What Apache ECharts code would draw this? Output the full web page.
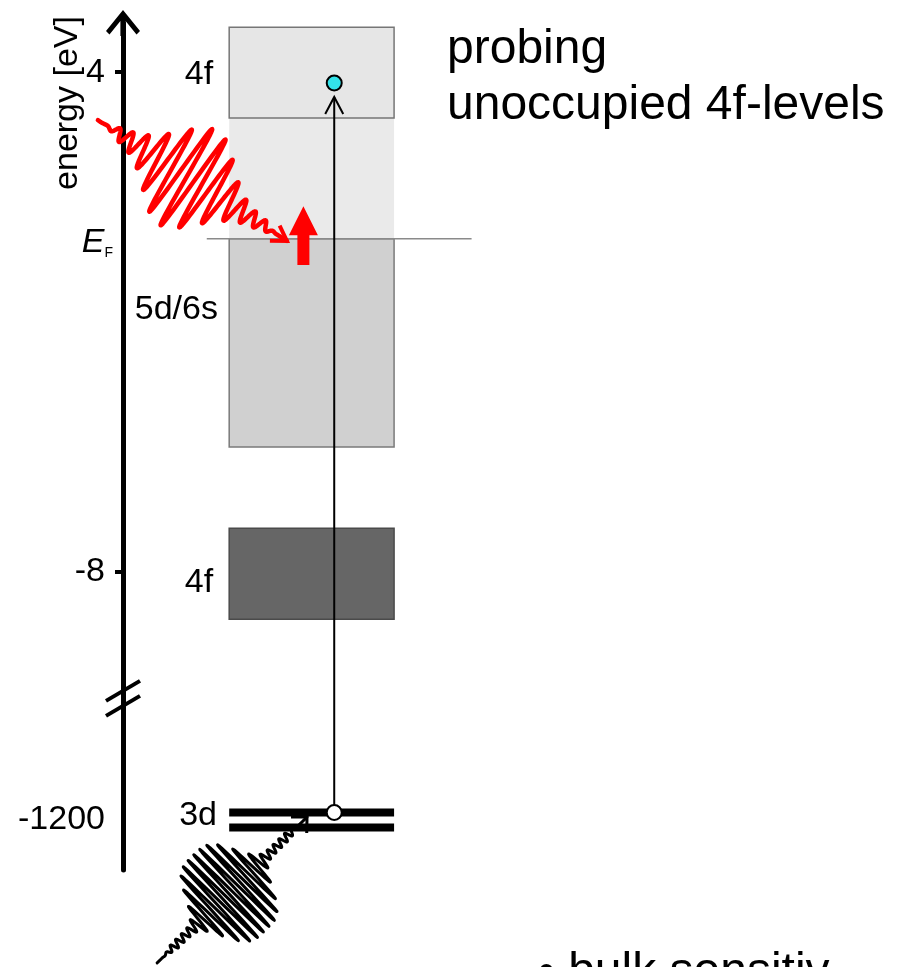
<!DOCTYPE html>
<html><head><meta charset="utf-8">
<script src="https://cdn.jsdelivr.net/npm/echarts@6/dist/echarts.min.js"></script>
<style>html,body{margin:0;padding:0;background:#fff}#c{width:897px;height:967px}</style>
</head><body><div id="c"></div>
<script>
// ---------------- data (energies in eV) ----------------
const bandNames   = ['4f (unoccupied)', '5d/6s (unoccupied)', '5d/6s', '4f'];
const bandTop     = [5.08, 2.90, 0.00, -6.95];
const bandBottom  = [2.90, 0.00, -5.00, -9.13];
const bandLabels  = ['4f', '5d/6s', '4f'];
const bandLabelE  = [3.95, -1.69, -8.26];
const coreLabel   = '3d';
const coreLabelE  = -1199.9;
const coreLevels  = [-1199.82, -1200.18];
const fermiLevel  = 0;
const tickValues  = [4, -8];
const tickLabels  = [4, -8, -1200];
const probeFromE  = -1199.82;   // core hole (open circle)
const probeToE    = 3.74;       // excited electron in 4f (cyan dot)
const pumpE       = [2.85, -0.05];        // optical pump pulse: start, arrow tip
const xrayE       = [-1203.43, -1199.93]; // x-ray pulse: start, arrow tip
const spinE       = [-0.63, 0.78];        // red spin arrow: tail, tip
const breakMarks  = [-10.85, -11.21];     // axis-break slashes (axis units)

// ---------------- axis break ----------------
const BREAK_SHIFT = 1186.05;
const toAxis = e => (e < -100 ? e + BREAK_SHIFT : e);
const fromAxis = v => (v < -12 ? Math.round(v - BREAK_SHIFT) : Math.round(v * 100) / 100);

// ---------------- layout (x in band-width units) ----------------
const X = {
  min: -0.644, max: 4.05,
  bandL: 0, bandR: 1,
  labelR: -0.097, label5dR: -0.068, coreLabelR: -0.074,
  efL: -0.136, efR: 1.47, efLabelR: -0.705,
  probe: 0.637, spin: 0.45,
  pump: [-0.796, 0.350], xray: [-0.437, 0.472]
};
const FONT = '"Liberation Sans", Arial, Helvetica, sans-serif';
const BAND_STYLE = [
  { fill: '#e6e6e6', stroke: '#767676', lineWidth: 1.5 },
  { fill: '#eaeaea', stroke: null, lineWidth: 0 },
  { fill: '#d0d0d0', stroke: '#7a7a7a', lineWidth: 1.5 },
  { fill: '#666666', stroke: '#4a4a4a', lineWidth: 1.5 }
];
const BAND_Z = [2, 1, 1, 1];
const RED_WAVE = { amp: 50, center: 0.48, width: 44, order: 2, lam: 17, lamTail: 13, tailAmp: 5, tailIn: [8, 30], tailOut: [30, 12] };
const BLK_WAVE = { amp: 48, center: 0.48, width: 37, order: 4, lam: 8, lamTail: 8, tailAmp: 4, tailIn: [6, 26], tailOut: [28, 12] };

function smooth(a, b, s) { let t = (s - a) / (b - a); t = Math.max(0, Math.min(1, t)); return t * t * (3 - 2 * t); }
function wavePoints(p0, p1, c) {
  const dx = p1[0] - p0[0], dy = p1[1] - p0[1], L = Math.hypot(dx, dy);
  const ux = dx / L, uy = dy / L, nx = -uy, ny = ux;
  const pts = []; let phase = 0; const step = 0.3;
  for (let s = 0; s <= L; s += step) {
    const env = c.amp * Math.exp(-Math.pow(Math.abs(s - c.center * L) / c.width, c.order));
    const fadeOut = 1 - smooth(L - c.tailOut[0], L - c.tailOut[1], s);
    const tail = c.tailAmp * smooth(c.tailIn[0], c.tailIn[1], s) * fadeOut;
    const a = env * fadeOut + tail;
    const lam = c.lamTail + (c.lam - c.lamTail) * Math.min(1, 3 * env / c.amp);
    phase += 2 * Math.PI * step / lam;
    const off = a * Math.sin(phase);
    pts.push([p0[0] + ux * s + nx * off, p0[1] + uy * s + ny * off]);
  }
  pts.push([p1[0], p1[1]]);
  return { pts, ux, uy };
}
function arrowHead(tip, ux, uy, len, ang) {
  const bx = -ux, by = -uy, r = [];
  for (const a of [ang, -ang]) {
    const c = Math.cos(a), s = Math.sin(a);
    r.push([tip[0] + len * (bx * c - by * s), tip[1] + len * (bx * s + by * c)]);
  }
  return [r[0], tip, r[1]];
}
function custom(name, data, renderItem, z) {
  return { type: 'custom', name, data, renderItem, z, silent: true, animation: false, clip: false };
}

const series = [];
// bands
series.push(custom('bands', bandTop.map((t, i) => [t, bandBottom[i]]), (p, api) => {
  const i = p.dataIndex;
  const a = api.coord([X.bandL, toAxis(api.value(0))]);
  const b = api.coord([X.bandR, toAxis(api.value(1))]);
  const st = BAND_STYLE[i];
  return { type: 'rect', z2: BAND_Z[i], shape: { x: a[0], y: a[1], width: b[0] - a[0], height: b[1] - a[1] },
    style: { fill: st.fill, stroke: st.stroke, lineWidth: st.lineWidth } };
}, 1));
// Fermi level line
series.push(custom('EF', [[fermiLevel]], (p, api) => {
  const a = api.coord([X.efL, toAxis(api.value(0))]);
  const b = api.coord([X.efR, toAxis(api.value(0))]);
  return { type: 'line', shape: { x1: a[0], y1: a[1], x2: b[0], y2: b[1] }, style: { stroke: '#8a8a8a', lineWidth: 1.5 } };
}, 2));
// 3d core levels
series.push(custom('3d', coreLevels.map(e => [e]), (p, api) => {
  const a = api.coord([X.bandL, toAxis(api.value(0))]);
  const b = api.coord([X.bandR, toAxis(api.value(0))]);
  return { type: 'line', shape: { x1: a[0], y1: a[1], x2: b[0], y2: b[1] }, style: { stroke: '#000', lineWidth: 8 } };
}, 3));
// probe transition: line, arrow head, circles
series.push(custom('probe', [[probeFromE, probeToE]], (p, api) => {
  const a = api.coord([X.probe, toAxis(api.value(0))]);
  const b = api.coord([X.probe, toAxis(api.value(1))]);
  const tipY = b[1] + 14;
  return { type: 'group', children: [
    { type: 'line', shape: { x1: a[0], y1: a[1], x2: a[0], y2: tipY }, style: { stroke: '#000', lineWidth: 2 } },
    { type: 'polyline', shape: { points: [[a[0] - 9, tipY + 17], [a[0], tipY], [a[0] + 9, tipY + 17]] }, style: { stroke: '#000', lineWidth: 2, fill: null } },
    { type: 'circle', shape: { cx: a[0], cy: a[1], r: 7.5 }, style: { fill: '#fff', stroke: '#000', lineWidth: 2 } },
    { type: 'circle', shape: { cx: b[0], cy: b[1], r: 7.5 }, style: { fill: '#33e3ea', stroke: '#000', lineWidth: 2 } }
  ] };
}, 4));
// pump pulse (red)
series.push(custom('pump', [pumpE], (p, api) => {
  const a = api.coord([X.pump[0], toAxis(api.value(0))]);
  const b = api.coord([X.pump[1], toAxis(api.value(1))]);
  const w = wavePoints(a, b, RED_WAVE);
  return { type: 'group', children: [
    { type: 'polyline', shape: { points: w.pts }, style: { stroke: '#ff0000', lineWidth: 4.5, fill: null, lineJoin: 'round', lineCap: 'round' } },
    { type: 'polyline', shape: { points: arrowHead(b, w.ux, w.uy, 17, 0.56) }, style: { stroke: '#ff0000', lineWidth: 4, fill: null, lineJoin: 'miter' } }
  ] };
}, 5));
// x-ray pulse (black)
series.push(custom('xray', [xrayE], (p, api) => {
  const a = api.coord([X.xray[0], toAxis(api.value(0))]);
  const b = api.coord([X.xray[1], toAxis(api.value(1))]);
  const w = wavePoints(a, b, BLK_WAVE);
  return { type: 'group', children: [
    { type: 'polyline', shape: { points: w.pts }, style: { stroke: '#000', lineWidth: 3, fill: null, lineJoin: 'round', lineCap: 'round' } },
    { type: 'polyline', shape: { points: arrowHead(b, w.ux, w.uy, 16, 0.78) }, style: { stroke: '#000', lineWidth: 3, fill: null } }
  ] };
}, 5));
// red spin arrow
series.push(custom('spin', [spinE], (p, api) => {
  const a = api.coord([X.spin, toAxis(api.value(0))]);
  const b = api.coord([X.spin, toAxis(api.value(1))]);
  const x = a[0], hb = b[1] + 29;
  return { type: 'polygon', shape: { points: [[x - 6, a[1]], [x - 6, hb], [x - 14.5, hb], [x, b[1]], [x + 14.5, hb], [x + 6, hb], [x + 6, a[1]]] },
    style: { fill: '#ff0000' } };
}, 6));
// axis break slashes
series.push(custom('break', breakMarks.map(v => [v]), (p, api) => {
  const c = api.coord([X.min, api.value(0)]);
  return { type: 'line', shape: { x1: c[0] - 17, y1: c[1] + 10, x2: c[0] + 17, y2: c[1] - 10 }, style: { stroke: '#000', lineWidth: 4 } };
}, 6));
// band labels
series.push(custom('bandLabels', bandLabelE.map(e => [e]), (p, api) => {
  const i = p.dataIndex;
  const c = api.coord([i === 1 ? X.label5dR : X.labelR, toAxis(api.value(0))]);
  return { type: 'text', x: c[0], y: c[1], style: { text: bandLabels[i], font: '34px ' + FONT, fill: '#000', align: 'right', verticalAlign: 'middle' } };
}, 6));
series.push(custom('coreLabel', [[coreLabelE]], (p, api) => {
  const c = api.coord([X.coreLabelR, toAxis(api.value(0))]);
  return { type: 'text', x: c[0], y: c[1], style: { text: coreLabel, font: '34px ' + FONT, fill: '#000', align: 'right', verticalAlign: 'middle' } };
}, 6));
// E_F label
series.push(custom('EFlabel', [[fermiLevel]], (p, api) => {
  const c = api.coord([X.efLabelR, toAxis(api.value(0))]);
  return { type: 'text', x: c[0], y: c[1] + 4, style: { text: '{e|E}{f|F}', align: 'right', verticalAlign: 'middle', fill: '#000',
    rich: { e: { fontSize: 34, fontStyle: 'italic', fontFamily: FONT, fill: '#000' }, f: { fontSize: 14, fontFamily: FONT, fill: '#000', verticalAlign: 'bottom' } } } };
}, 6));

const option = {
  backgroundColor: '#fff',
  animation: false,
  grid: { left: 123, right: 0, top: 23, bottom: 97, containLabel: false },
  xAxis: { type: 'value', min: X.min, max: X.max, show: false },
  yAxis: {
    type: 'value', min: -15.15, max: 5.18,
    axisLine: { show: true, onZero: false, lineStyle: { color: '#000', width: 5 },
      symbol: ['none', 'path://M17,0 L34,21 L30.5,24.5 L19.6,11 L19.6,26 L14.4,26 L14.4,11 L3.5,24.5 L0,21 Z'], symbolSize: [34, 26] },
    axisTick: { show: true, customValues: tickValues, length: 8, lineStyle: { color: '#000', width: 4 } },
    axisLabel: { show: true, customValues: tickLabels.map(toAxis), formatter: v => String(fromAxis(v)), margin: 18,
      fontSize: 34, fontFamily: FONT, color: '#000' },
    splitLine: { show: false }
  },
  graphic: [
    { type: 'text', x: 68, y: 103, rotation: Math.PI / 2, style: { text: 'energy [eV]', font: '34px ' + FONT, fill: '#000', align: 'center', verticalAlign: 'middle' } },
    { type: 'text', x: 447, y: 22, style: { text: 'probing\nunoccupied 4f-levels', font: '48px ' + FONT, lineHeight: 56, fill: '#000', align: 'left', verticalAlign: 'top' } },
    { type: 'text', x: 538, y: 973, style: { text: '\u2022 bulk sensitiv', font: '48px ' + FONT, fill: '#000', align: 'left', verticalAlign: 'middle' } }
  ],
  series
};
const chart = echarts.init(document.getElementById('c'));
chart.setOption(option);
</script></body></html>
